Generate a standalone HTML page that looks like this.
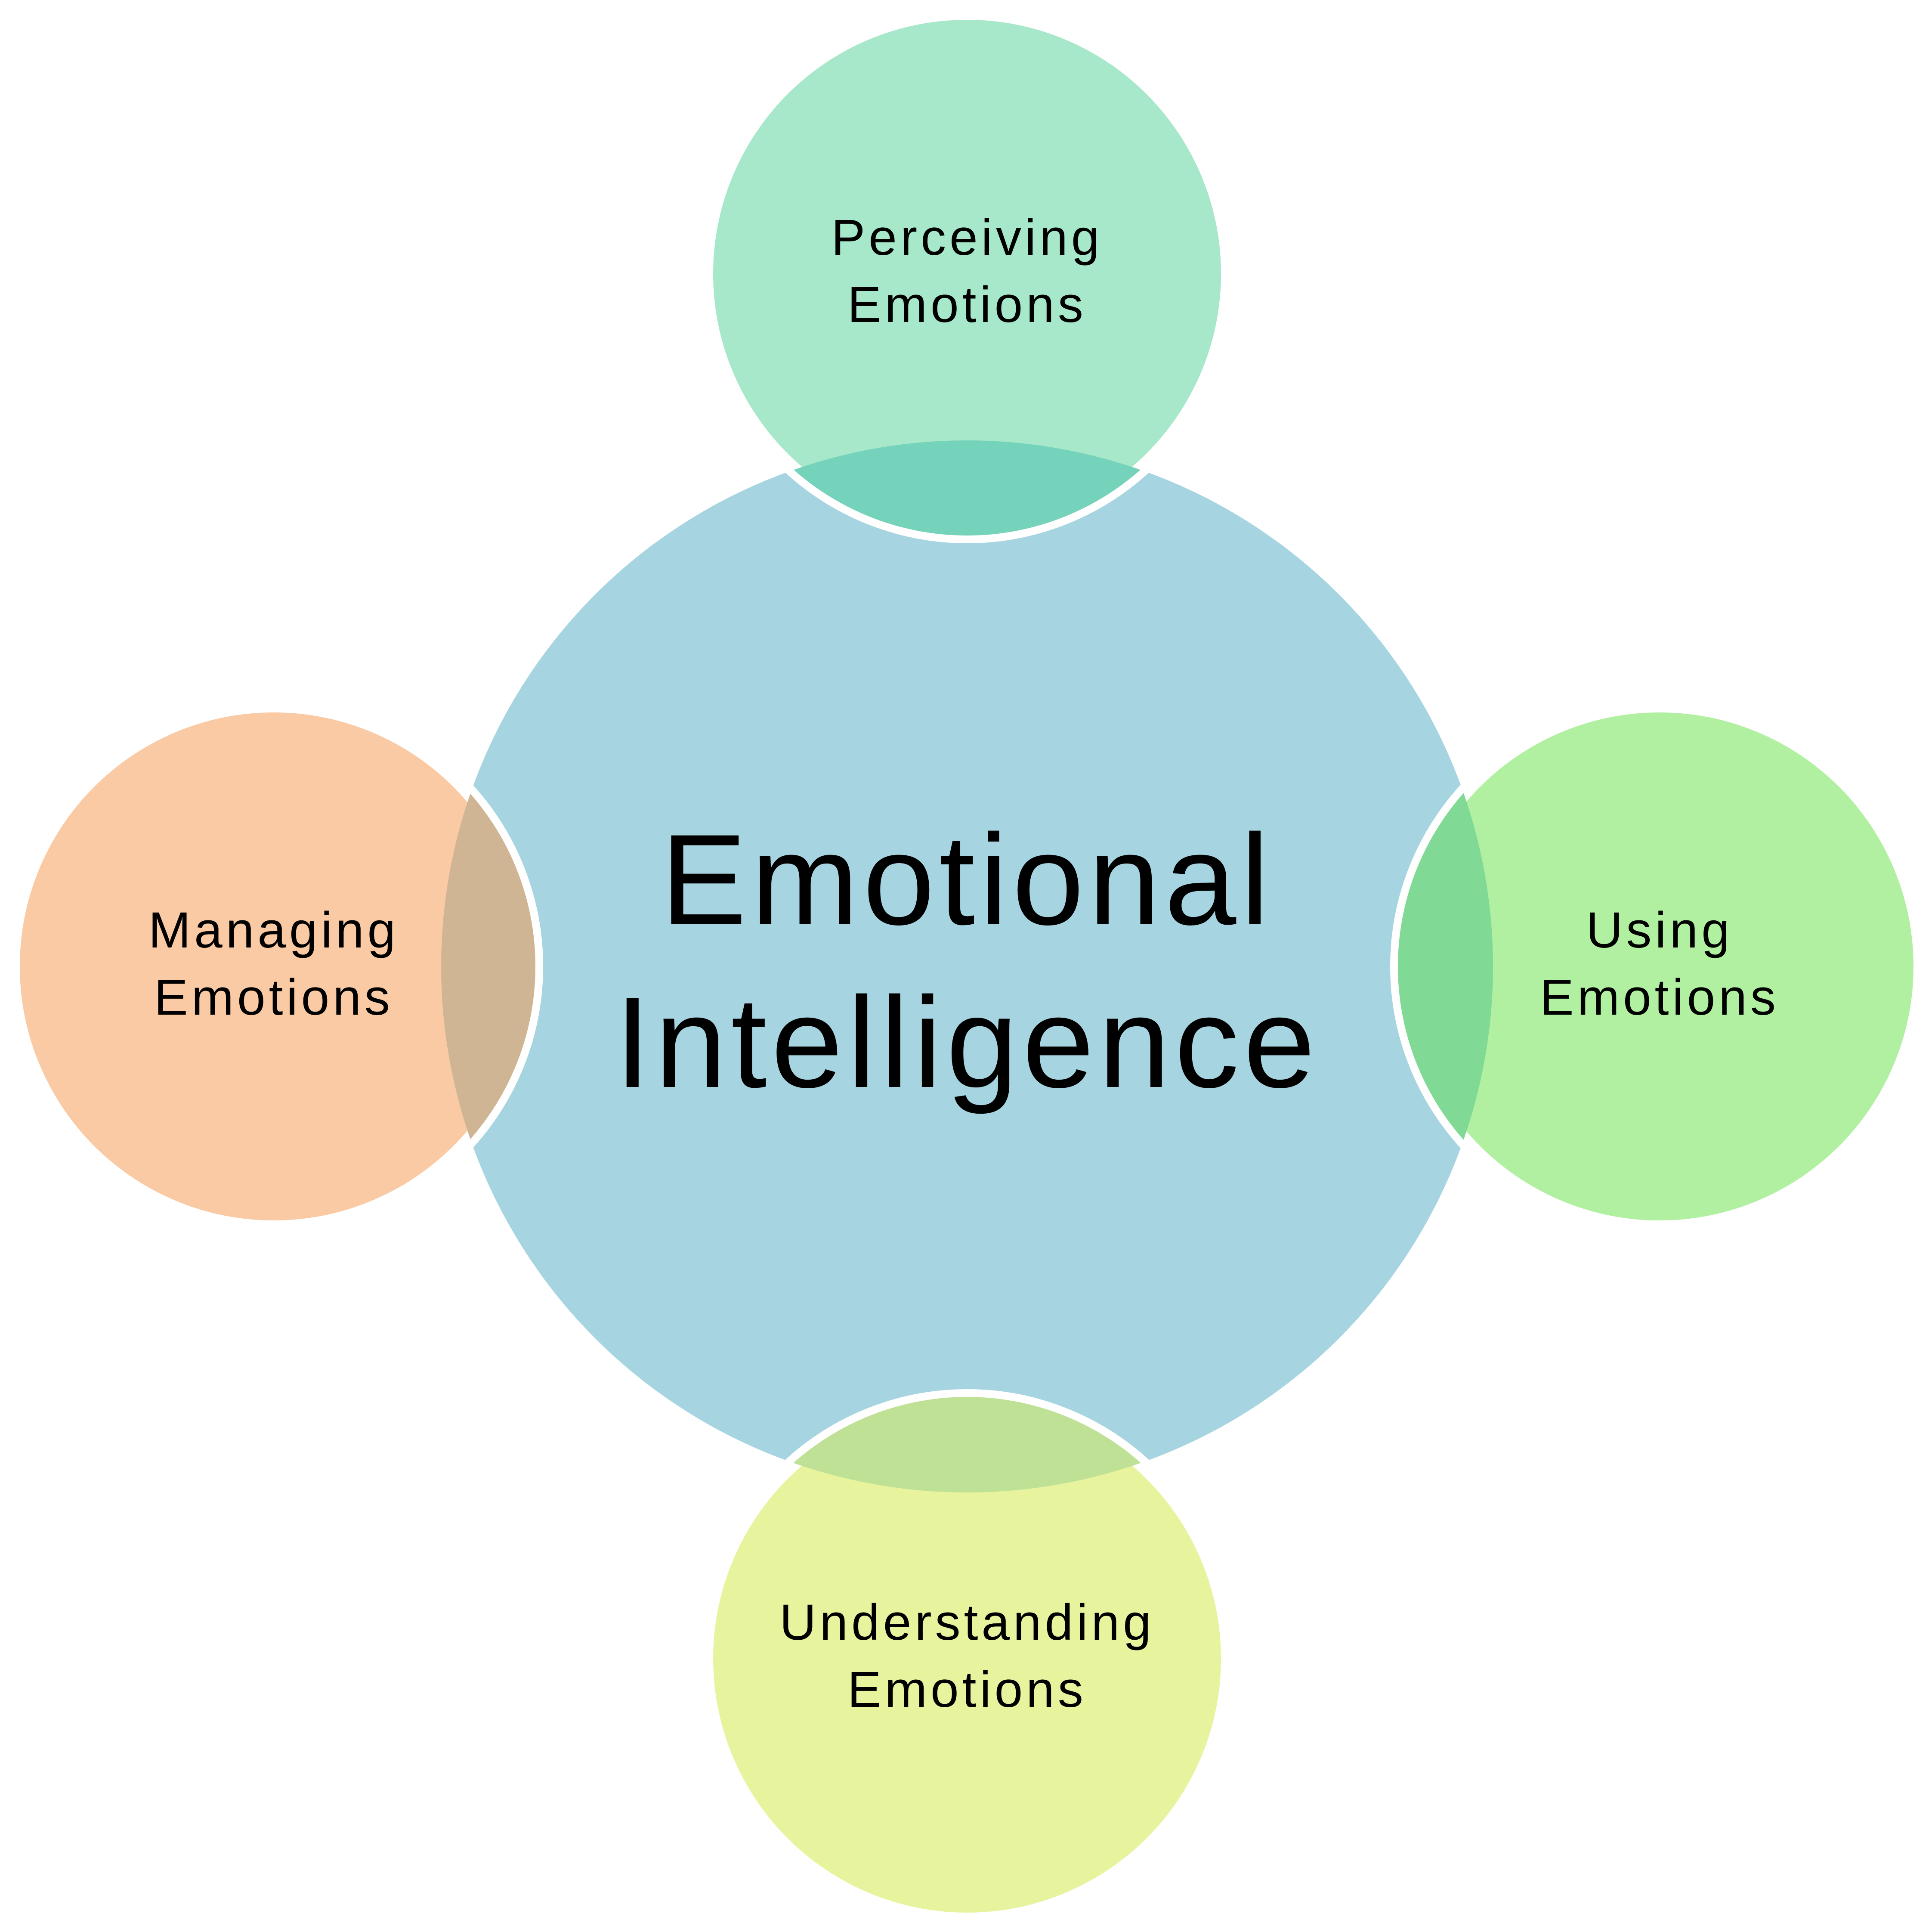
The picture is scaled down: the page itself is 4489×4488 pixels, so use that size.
<!DOCTYPE html>
<html><head><meta charset="utf-8"><style>
html,body{margin:0;padding:0;background:#fff;}
svg{display:block;}
text{font-family:"Liberation Sans",sans-serif;fill:#000;text-anchor:middle;}
</style></head><body>
<svg width="4489" height="4488" viewBox="0 0 4489 4488" xmlns="http://www.w3.org/2000/svg">
<defs>
<clipPath id="cc"><circle cx="2247" cy="2245" r="1222"/></clipPath>
</defs>
<circle cx="2247" cy="2245" r="1222" fill="#a6d5e1"/>
<g stroke="#fff" stroke-width="36">
<circle cx="2247" cy="636" r="608" fill="#a6e8c9"/>
<circle cx="3856" cy="2245" r="608" fill="#b0f0a0"/>
<circle cx="2247" cy="3853" r="608" fill="#e8f39e"/>
<circle cx="636" cy="2245" r="608" fill="#f9caa4"/>
</g>
<g clip-path="url(#cc)">
<circle cx="2247" cy="636" r="608" fill="#76d3bb"/>
<circle cx="3856" cy="2245" r="608" fill="#80d994"/>
<circle cx="2247" cy="3853" r="608" fill="#bfe196"/>
<circle cx="636" cy="2245" r="608" fill="#cfb594"/>
</g>
<text x="2247" y="2147" font-size="300" letter-spacing="10">Emotional</text>
<text x="2247" y="2525" font-size="300" letter-spacing="10">Intelligence</text>
<g font-size="118" letter-spacing="8">
<text x="2247" y="592">Perceiving</text><text x="2247" y="748">Emotions</text>
<text x="3856" y="2201">Using</text><text x="3856" y="2357">Emotions</text>
<text x="2247" y="3809">Understanding</text><text x="2247" y="3965">Emotions</text>
<text x="636" y="2201">Managing</text><text x="636" y="2357">Emotions</text>
</g>
</svg>
</body></html>
